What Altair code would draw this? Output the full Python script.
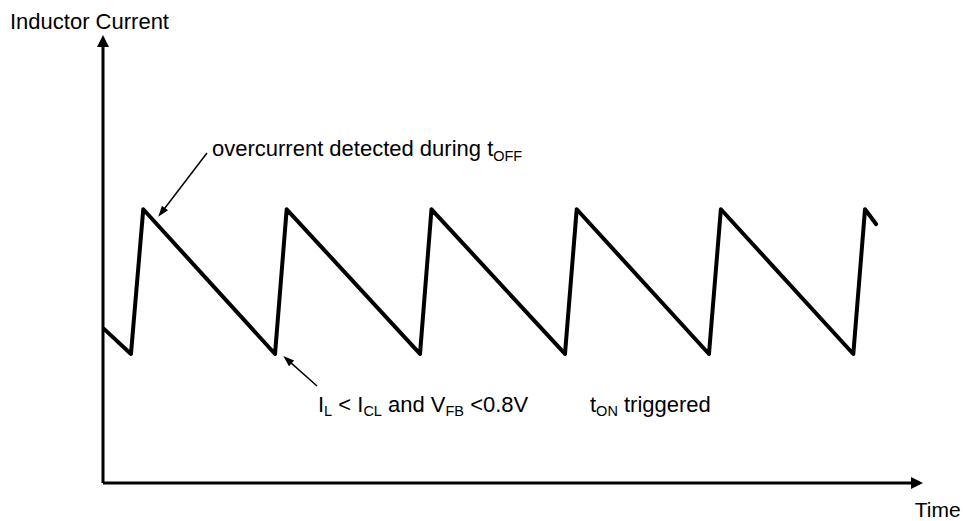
import altair as alt
import numpy as np
import pandas as pd

# Inductor-current sawtooth: vertices (time, current) in arbitrary units
time_pts = [0.12, 3.41, 4.91, 20.98, 22.40, 38.66, 40.06, 56.34, 57.77,
            73.90, 75.35, 91.50, 92.93, 94.27]
current_pts = [34.4, 28.8, 61.1, 28.8, 61.1, 28.8, 61.1, 28.8, 61.1,
               28.8, 61.1, 28.8, 61.1, 57.8]

# Annotation leaders: (tail x, tail y, tip x, tip y)
leader_tail_x = [12.68, 26.10]
leader_tail_y = [73.66, 21.65]
leader_tip_x = [6.74, 21.99]
leader_tip_y = [59.44, 28.35]

# Text labels: anchor (x, y), font size and runs of (text, is_subscript)
label_x = [13.29, 26.22, 59.39, -11.34, 99.0]
label_y = [72.99, 15.85, 15.85, 101.34, -7.59]
label_size = [22, 22, 22, 22, 21]
label_runs = [
    [("overcurrent detected during t", False), ("OFF", True)],
    [("I", False), ("L", True), (" < I", False), ("CL", True),
     (" and V", False), ("FB", True), (" <0.8V", False)],
    [("t", False), ("ON", True), (" triggered", False)],
    [("Inductor Current", False)],
    [("Time", False)],
]

W, H = 820, 448
PX_X, PX_Y = W / 100.0, H / 100.0
FONT = "Liberation Sans"
SUB_SCALE, SUB_DROP = 0.66, 4.5

# Arial advance widths (per 1000 em) for laying out text runs
ADV = {' ': 278, '<': 584, '.': 278, '0': 556, '8': 556, 'B': 667, 'C': 722,
       'F': 611, 'I': 278, 'L': 556, 'N': 722, 'O': 778, 'T': 611, 'V': 667,
       'a': 556, 'c': 500, 'd': 556, 'e': 556, 'g': 556, 'i': 222, 'm': 833,
       'n': 556, 'o': 556, 'r': 333, 't': 278, 'u': 556, 'v': 500}


def advance(s, size):
    return sum(ADV[c] for c in s) * size / 1000.0 / PX_X


runs = []
for x0, y0, fs, parts in zip(label_x, label_y, label_size, label_runs):
    cx = x0
    for txt, sub in parts:
        size = round(fs * SUB_SCALE, 1) if sub else fs
        # SVG collapses edge whitespace, so spaces become offsets
        lead = len(txt) - len(txt.lstrip(" "))
        cx += advance(" " * lead, size)
        runs.append({"x": cx, "y": y0 - (SUB_DROP / PX_Y if sub else 0),
                     "text": txt.strip(" "), "size": size})
        cx += advance(txt.lstrip(" "), size)
text_df = pd.DataFrame(runs)

wave_df = pd.DataFrame({"x": time_pts, "y": current_pts})

# Axes drawn as arrows from the origin
axis_df = pd.DataFrame({"x": [0, 0], "y": [0, 0],
                        "x2": [100 - 6 / PX_X, 0], "y2": [0, 100 - 6 / PX_Y]})
axis_head_df = pd.DataFrame({"x": [100, 0], "y": [0, 100], "angle": [90, 0]})


def angle_of(x0, y0, x1, y1):
    dx = (x1 - x0) * PX_X
    dy = -(y1 - y0) * PX_Y
    return (np.degrees(np.arctan2(dx, -dy)) + 360) % 360


lead_rows, head_rows = [], []
for tx, ty, hx, hy in zip(leader_tail_x, leader_tail_y, leader_tip_x, leader_tip_y):
    dx, dy = (hx - tx) * PX_X, (hy - ty) * PX_Y
    n = np.hypot(dx, dy)
    ex, ey = hx - 5 * dx / n / PX_X, hy - 5 * dy / n / PX_Y
    lead_rows.append({"x": tx, "y": ty, "x2": ex, "y2": ey})
    head_rows.append({"x": hx, "y": hy, "angle": angle_of(tx, ty, hx, hy)})
lead_df = pd.DataFrame(lead_rows)
lead_head_df = pd.DataFrame(head_rows)

xs = alt.Scale(domain=[0, 100], nice=False, zero=False)
ys = alt.Scale(domain=[0, 100], nice=False, zero=False)
X = alt.X("x:Q", scale=xs, axis=None)
Y = alt.Y("y:Q", scale=ys, axis=None)

wave = alt.Chart(wave_df).mark_line(
    color="black", strokeWidth=4, strokeJoin="round", strokeCap="round"
).encode(x=X, y=Y, order="x:Q")

axes = alt.Chart(axis_df).mark_rule(color="black", strokeWidth=3).encode(
    x=X, y=Y, x2="x2:Q", y2="y2:Q")

axis_heads = alt.Chart(axis_head_df).mark_point(
    shape="M0,0L-1,2L1,2Z", filled=True, color="black", opacity=1,
    strokeWidth=0, size=144
).encode(x=X, y=Y, angle=alt.Angle("angle:Q", scale=None))

leaders = alt.Chart(lead_df).mark_rule(color="black", strokeWidth=1.5).encode(
    x=X, y=Y, x2="x2:Q", y2="y2:Q")

leader_heads = alt.Chart(lead_head_df).mark_point(
    shape="M0,0L-0.7,2L0.7,2Z", filled=True, color="black", opacity=1,
    strokeWidth=0, size=121
).encode(x=X, y=Y, angle=alt.Angle("angle:Q", scale=None))

labels = alt.Chart(text_df).mark_text(
    align="left", baseline="alphabetic", font=FONT, color="black"
).encode(x=X, y=Y, text="text:N", size=alt.Size("size:Q", scale=None))

chart = alt.layer(wave, axes, axis_heads, leaders, leader_heads, labels).properties(
    width=W, height=H,
    autosize=alt.AutoSizeParams(type="none"),
    padding={"left": 103, "top": 35, "right": 40, "bottom": 38},
    background="white",
).configure_view(stroke=None)

chart.save("out.html", embed_options={"renderer": "svg", "actions": False})
